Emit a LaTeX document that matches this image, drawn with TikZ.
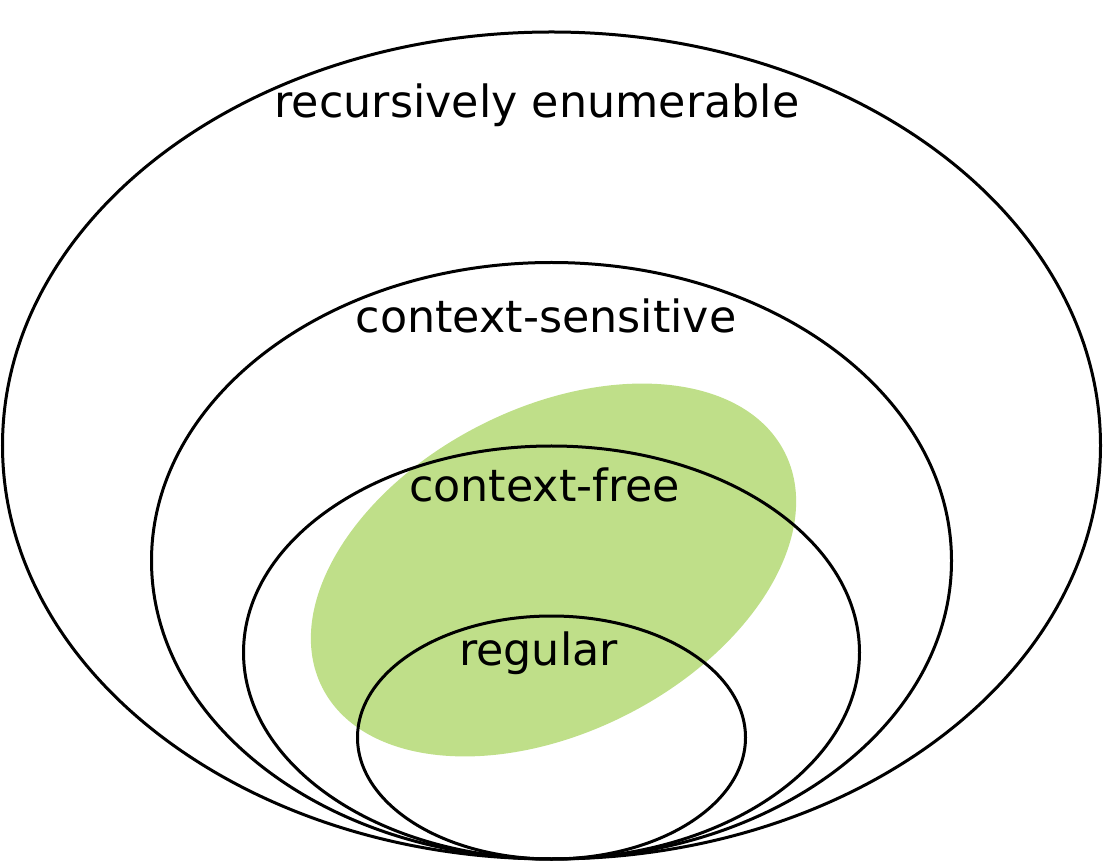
\documentclass[tikz,border=0pt]{standalone}
\usepackage{fontspec}
\setmainfont{DejaVu Sans}
\definecolor{cfgreen}{RGB}{191,223,137}
\begin{document}
\begin{tikzpicture}[x=1pt,y=1pt,
  setline/.style={draw=black,line width=3pt},
  setlabel/.style={anchor=base,inner sep=0pt,font=\fontsize{44.4}{52}\selectfont}]
\useasboundingbox (0,0) rectangle (1103,863);
\fill[cfgreen,rotate around={27:(553.5,293)}] (553.5,293) ellipse [x radius=259.4, y radius=162.2];
\draw[setline] (551.5,417.5) ellipse [x radius=549, y radius=413.5];
\draw[setline] (551.5,302.25) ellipse [x radius=400, y radius=298.25];
\draw[setline] (551.5,210.5) ellipse [x radius=308, y radius=206.5];
\draw[setline] (551.5,125.5) ellipse [x radius=194, y radius=121.5];
\node[setlabel] (re) at (537,745) {recursively enumerable};
\node[setlabel] (cs) at (546,530.3) {context-sensitive};
\node[setlabel] (cf) at (544.5,361.3) {context-free};
\node[setlabel] (rg) at (538.5,198) {regular};
\end{tikzpicture}
\end{document}
